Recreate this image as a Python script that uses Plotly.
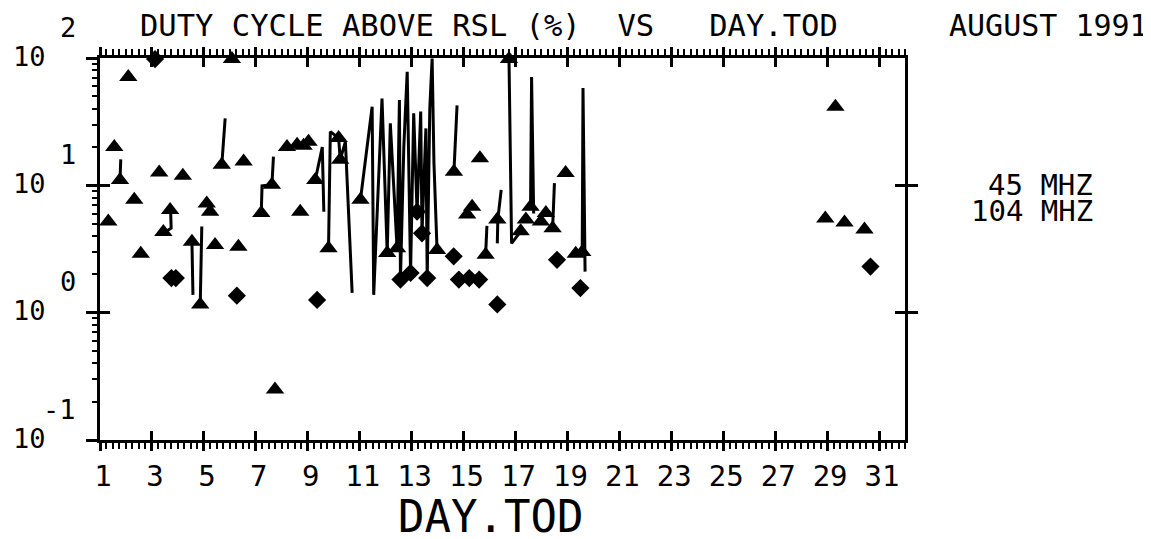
import plotly.graph_objects as go
import math

# ---------------- data ----------------
day_ticks = list(range(1, 32, 2))
day_tick_labels = [str(d) for d in day_ticks]
decades = [0.1, 1, 10, 100]
decade_exponents = ["-1", "0", "1", "2"]

# 45 MHZ (triangles)
tri_day = [1.32, 1.55, 1.77, 2.09, 2.32, 2.57, 3.28, 3.44, 3.70, 4.19, 4.54, 4.86,
           5.11, 5.24, 5.43, 5.69, 6.08, 6.33, 6.53, 7.21, 7.62, 7.74, 8.20, 8.59,
           8.84, 8.71, 9.03, 9.29, 9.80, 10.19, 10.25, 11.03, 12.06, 12.44, 13.98,
           14.63, 15.14, 15.33, 15.63, 15.85, 16.30, 16.75, 17.20, 17.40, 17.58,
           17.98, 18.17, 18.43, 18.93, 19.32, 19.57, 28.93, 29.32, 29.67, 30.44]
tri_val = [5.2, 20, 11, 71, 7.7, 2.9, 12.6, 4.3, 6.4, 11.9, 3.6, 1.16,
           7.2, 6.2, 3.4, 14.5, 98, 3.3, 15.4, 6.05, 10.1, 0.249, 20, 20.8,
           20.5, 6.2, 22, 11, 3.2, 23.5, 15.9, 7.7, 2.94, 3.2, 3.1,
           12.8, 5.9, 6.8, 16.3, 2.85, 5.4, 98, 4.35, 5.4, 6.8,
           5.2, 6.05, 4.6, 12.5, 2.9, 3.0, 5.5, 41.5, 5.1, 4.5]

# 104 MHZ (diamonds)
dia_day = [3.12, 3.75, 3.92, 6.27, 9.36, 12.57, 12.96, 13.21, 13.40, 13.60,
           14.62, 14.82, 15.22, 15.60, 16.30, 18.60, 19.50, 30.67]
dia_val = [98, 1.87, 1.87, 1.36, 1.26, 1.82, 2.05, 6.2, 4.2, 1.87,
           2.77, 1.82, 1.87, 1.82, 1.16, 2.6, 1.56, 2.3]

# connected trace segments (day, value)
segments = [
    [(1.77, 11), (1.80, 16)],
    [(3.72, 6.4), (3.74, 4.6), (3.50, 4.3)],
    [(4.54, 3.6), (4.58, 1.38)],
    [(4.86, 1.16), (4.92, 4.75)],
    [(5.69, 14.5), (5.82, 33.6)],
    [(7.21, 6.05), (7.24, 9.9), (7.62, 10.1), (7.68, 16.8)],
    [(9.29, 11), (9.56, 20), (9.62, 6.2)],
    [(9.80, 3.2), (9.87, 26.4), (10.19, 23.5), (10.25, 15.9), (10.45, 22), (10.71, 1.43)],
    [(11.03, 7.7), (11.48, 41.5), (11.54, 1.38), (11.86, 48), (12.06, 2.94), (12.18, 30.7),
     (12.44, 3.2), (12.53, 46.8), (12.57, 1.82), (12.70, 20), (12.83, 78), (12.90, 8),
     (12.96, 2.05), (13.08, 36.8), (13.21, 6.2), (13.35, 38), (13.40, 4.2), (13.55, 28),
     (13.60, 1.87), (13.70, 40), (13.79, 99), (13.86, 15), (13.98, 3.1)],
    [(14.63, 12.8), (14.75, 42.5)],
    [(15.85, 2.85), (15.90, 4.8)],
    [(16.30, 3.5), (16.32, 5.4), (16.45, 9.2)],
    [(16.75, 99), (16.85, 3.5), (17.20, 4.35)],
    [(17.58, 6.8), (17.62, 71), (17.70, 6)],
    [(18.43, 4.6), (18.50, 10.4)],
    [(19.32, 2.9), (19.57, 3.0), (19.60, 58), (19.68, 2.1)],
]

line_day, line_val = [], []
for seg in segments:
    for d, v in seg:
        line_day.append(d)
        line_val.append(v)
    line_day.append(None)
    line_val.append(None)

# ---------------- figure ----------------
FONT = "DejaVu Sans Mono"
OFF = 8  # page body margin of the browser
W, H = 1151 - OFF, 539 - OFF
PX0, PX1, PY0, PY1 = 100, 905, 58, 440   # plot box in reference pixels
L, T = PX0 - OFF, PY0 - OFF
PW, PH = PX1 - PX0, PY1 - PY0
R, B = W - L - PW, H - T - PH


def px_x(x):
    return (x - PX0) / PW


def px_y(y):
    return (PY1 - y) / PH


fig = go.Figure()
fig.add_trace(go.Scatter(x=line_day, y=line_val, mode="lines",
                         line=dict(color="black", width=3), showlegend=False,
                         hoverinfo="skip", cliponaxis=False))
fig.add_trace(go.Scatter(x=tri_day, y=tri_val, mode="markers", name="45 MHZ",
                         marker=dict(symbol="triangle-up", size=16, color="black"),
                         showlegend=False, cliponaxis=False))
fig.add_trace(go.Scatter(x=dia_day, y=dia_val, mode="markers", name="104 MHZ",
                         marker=dict(symbol="diamond", size=14, color="black"),
                         showlegend=False, cliponaxis=False))

# invisible copies so that the extra tick-only axes get drawn
for xa, ya in [("x2", "y2"), ("x", "y3"), ("x", "y4"), ("x", "y5")]:
    fig.add_trace(go.Scatter(x=dia_day, y=dia_val, mode="markers", xaxis=xa, yaxis=ya,
                             marker=dict(size=1, color="rgba(0,0,0,0)"),
                             showlegend=False, hoverinfo="skip"))

minor_vals = [m * d for d in [0.1, 1, 10] for m in range(2, 10)]
xr = [1, 32]
yr = [-1, 2]

common_y = dict(type="log", range=yr, overlaying="y", anchor="x",
                showticklabels=False, showline=False, showgrid=False,
                zeroline=False, tickcolor="black")

fig.update_layout(
    width=W, height=H,
    margin=dict(l=L, r=R, t=T, b=B, pad=0),
    paper_bgcolor="white", plot_bgcolor="white",
    font=dict(family=FONT, color="black"),
    xaxis=dict(range=xr, tickvals=day_ticks, ticktext=day_tick_labels,
               ticks="outside", ticklen=8, tickwidth=2.5, tickcolor="black",
               showline=True, linewidth=3, linecolor="black", mirror="ticks",
               showgrid=False, zeroline=False,
               tickfont=dict(family=FONT, size=29, color="black"),
               ticklabelshift=3, ticklabelstandoff=0,
               minor=dict(tick0=1, dtick=0.25, ticks="outside", ticklen=6,
                          tickwidth=1.8, tickcolor="black", showgrid=False)),
    xaxis2=dict(range=xr, overlaying="x", anchor="y", tickvals=day_ticks,
                ticks="inside", ticklen=9, tickwidth=2.5, tickcolor="black",
                showticklabels=False, showline=False, mirror="ticks",
                showgrid=False, zeroline=False),
    yaxis=dict(type="log", range=yr, tickvals=decades, ticks="outside",
               ticklen=11, tickwidth=2.5, tickcolor="black", showticklabels=False,
               showline=True, linewidth=3, linecolor="black", mirror=True,
               showgrid=False, zeroline=False),
    yaxis2=dict(common_y, anchor="x2", tickvals=decades, ticks="inside",
                ticklen=10, tickwidth=2.5),
    yaxis3=dict(common_y, side="right", tickvals=[1, 10], ticks="outside",
                ticklen=12, tickwidth=2.5),
    yaxis4=dict(common_y, side="right", tickvals=[1, 10], ticks="inside",
                ticklen=10, tickwidth=2.5),
    yaxis5=dict(common_y, tickvals=minor_vals, ticks="outside", ticklen=7,
                tickwidth=2),
)

ann = []
# y tick labels: 10 with raised exponent
for v, e in zip(decades, decade_exponents):
    ann.append(dict(text="10", x=px_x(48), xref="paper", xanchor="right",
                    y=math.log10(v), yref="y", yanchor="middle", yshift=2,
                    showarrow=False, font=dict(family=FONT, size=27, color="black")))
    ann.append(dict(text=e, x=px_x(78), xref="paper", xanchor="right",
                    y=math.log10(v), yref="y", yanchor="middle", yshift=31,
                    showarrow=False, font=dict(family=FONT, size=27, color="black")))

ann.append(dict(text="DUTY CYCLE ABOVE RSL (%)  VS   DAY.TOD", x=px_x(489), y=px_y(25),
                xref="paper", yref="paper", xanchor="center", yanchor="middle",
                showarrow=False, font=dict(family=FONT, size=30.5, color="black")))
ann.append(dict(text="AUGUST 1991", x=px_x(1048), y=px_y(25),
                xref="paper", yref="paper", xanchor="center", yanchor="middle",
                showarrow=False, font=dict(family=FONT, size=30, color="black")))
ann.append(dict(text="45 MHZ", x=px_x(1094), y=px_y(185), height=24, borderpad=0,
                xref="paper", yref="paper", xanchor="right", yanchor="middle",
                showarrow=False, font=dict(family=FONT, size=29, color="black")))
ann.append(dict(text="104 MHZ", x=px_x(1094), y=px_y(211), height=24, borderpad=0,
                xref="paper", yref="paper", xanchor="right", yanchor="middle",
                showarrow=False, font=dict(family=FONT, size=29, color="black")))
ann.append(dict(text="DAY.TOD", x=px_x(490), y=px_y(516), height=38, borderpad=0,
                xref="paper", yref="paper", xanchor="center", yanchor="middle",
                showarrow=False, font=dict(family=FONT, size=44, color="black")))
fig.update_layout(annotations=ann)

fig.write_html("out.html")
